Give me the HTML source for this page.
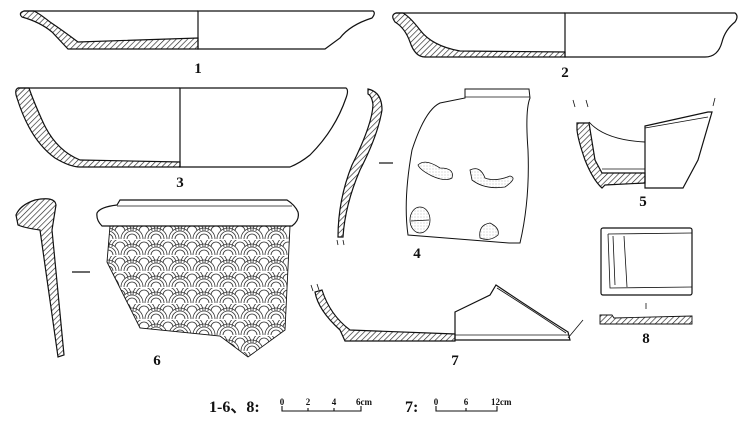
<!DOCTYPE html>
<html><head><meta charset="utf-8"><style>
html,body{margin:0;padding:0;background:#fff;}
svg{display:block;}
text{font-family:"Liberation Serif",serif;font-weight:bold;fill:#111;}
</style></head><body>
<svg width="750" height="426" viewBox="0 0 750 426" xmlns="http://www.w3.org/2000/svg">
<defs>
<pattern id="h" width="4" height="4" patternUnits="userSpaceOnUse" patternTransform="rotate(45)">
<line x1="0" y1="0" x2="0" y2="4" stroke="#222" stroke-width="1.3"/>
</pattern>
<pattern id="sc" width="24" height="16" patternUnits="userSpaceOnUse">
<g fill="none" stroke="#333" stroke-width="0.8">
<path d="M1 15 A11 11 0 0 1 23 15"/><path d="M4 15 A8 8 0 0 1 20 15"/><path d="M7 15 A5 5 0 0 1 17 15"/>
<path d="M-11 7 A11 11 0 0 1 11 7"/><path d="M-8 7 A8 8 0 0 1 8 7"/><path d="M-5 7 A5 5 0 0 1 5 7"/>
<path d="M13 7 A11 11 0 0 1 35 7"/><path d="M16 7 A8 8 0 0 1 32 7"/><path d="M19 7 A5 5 0 0 1 29 7"/>
</g>
</pattern>
<pattern id="dot" width="3" height="3" patternUnits="userSpaceOnUse"><circle cx="1" cy="1" r="0.4" fill="#666"/></pattern>
</defs>
<g fill="none" stroke="#111" stroke-width="1.2">
<!-- Fig 1 -->
<path d="M198 11 L373 11 Q376 13 372 18 Q350 25 340 38 L325 49 L198 49 Z" fill="#fff"/>
<path d="M24 11 Q18 13 22 17 Q40 22 52 32 L68 49 L198 49 L198 38 Q140 40 78 42 Q62 30 50 22 Q40 14 34 11 Z" fill="url(#h)"/>
<line x1="24" y1="11" x2="198" y2="11"/>
<!-- Fig 2 -->
<path d="M565 13 L735 13 Q739 16 735 22 Q725 30 722 42 Q718 57 705 57 L565 57 Z" fill="#fff"/>
<path d="M396 13 Q390 15 395 22 Q405 28 410 42 Q415 57 425 57 L565 57 L565 52 L460 51 Q432 46 420 30 Q410 17 403 13 Z" fill="url(#h)"/>
<line x1="396" y1="13" x2="565" y2="13"/>
<!-- Fig 3 -->
<path d="M180 88 L346 88 Q349 90 346 98 Q335 130 310 155 Q300 163 290 167 L180 167 Z" fill="#fff"/>
<path d="M18 88 Q14 90 17 98 Q30 140 55 158 Q70 167 80 167 L180 167 L180 162 L80 160 Q55 150 42 120 Q33 100 29 88 Z" fill="url(#h)"/>
<line x1="18" y1="88" x2="180" y2="88"/>
<!-- Fig 4 profile -->
<path d="M368 89 Q382 92 382 110 Q378 135 360 170 Q345 205 343 237 L338 237 Q338 200 352 165 Q372 125 373 105 Q372 96 368 94 Z" fill="url(#h)"/>
<line x1="379" y1="163" x2="393" y2="163"/>
<line x1="337" y1="240" x2="338" y2="245" stroke-width="0.8"/><line x1="343" y1="240" x2="344" y2="245" stroke-width="0.8"/>
<!-- Fig 4 sherd -->
<path d="M465 89 L529 89 L530 98 Q525 110 528 150 Q530 200 520 243 L509 243 L408 235 Q403 200 412 150 Q425 110 440 103 Q455 100 465 98 Z" fill="#fff" stroke-width="1"/>
<line x1="465" y1="97" x2="530" y2="97" stroke-width="0.8"/>
<path d="M418 165 Q425 158 440 168 Q455 168 452 178 Q445 182 432 176 Q420 170 418 165 Z" fill="url(#dot)" stroke-width="0.8"/>
<path d="M470 170 Q480 165 485 178 Q495 182 510 176 Q518 178 505 187 Q485 190 472 180 Z" fill="url(#dot)" stroke-width="0.8"/>
<ellipse cx="420" cy="220" rx="10" ry="13" fill="url(#dot)" stroke-width="0.8"/>
<line x1="411" y1="221" x2="429" y2="220" stroke-width="0.8"/>
<path d="M480 238 Q478 225 490 223 Q500 228 498 235 Q490 242 480 238 Z" fill="url(#dot)" stroke-width="0.8"/>
<!-- Fig 5 -->
<path d="M645 126 L708 112 L712 112 L698 160 L683 188 L645 188 Z" fill="#fff"/>
<line x1="645" y1="128" x2="708" y2="117" stroke-width="0.8"/>
<path d="M589 122 Q605 140 645 142" stroke-width="0.9"/>
<path d="M577 123 L589 123 L595 160 L602 173 L645 173 L645 183 L605 185 L602 188 Q593 180 585 160 Q578 140 577 130 Z" fill="url(#h)"/>
<line x1="602" y1="169" x2="645" y2="169" stroke-width="0.8"/>
<line x1="573" y1="100" x2="575" y2="107" stroke-width="0.8"/><line x1="586" y1="100" x2="588" y2="107" stroke-width="0.8"/><line x1="715" y1="98" x2="713" y2="106" stroke-width="0.8"/>
<!-- Fig 6 -->
<path d="M16 215 Q20 205 35 200 Q55 196 56 205 L52 230 L64 355 L58 357 L40 230 Q25 228 18 225 Z" fill="url(#h)"/>
<line x1="72" y1="272" x2="90" y2="272"/>
<path d="M110 226 L290 226 L285 330 L248 357 L220 336 L140 328 L107 262 Z" fill="url(#sc)" stroke-width="0.9"/>
<path d="M120 200 L287 200 Q295 205 298 212 Q300 220 292 226 L102 226 Q96 220 97 213 Q100 207 117 205 Z" fill="#fff"/>
<line x1="117" y1="206" x2="292" y2="206" stroke-width="0.8"/>
<!-- Fig 7 -->
<path d="M455 312 L490 295 L496 285 Q530 308 568 332 L570 340 L455 340 Z" fill="#fff"/>
<path d="M497 288 Q535 312 566 333" stroke-width="0.8"/>
<line x1="455" y1="335" x2="568" y2="335" stroke-width="0.8"/>
<line x1="568" y1="338" x2="583" y2="320" stroke-width="0.8"/>
<path d="M315 292 Q318 310 340 330 L345 341 L455 341 L455 334 L350 330 Q330 315 322 290 Z" fill="url(#h)"/>
<line x1="311" y1="285" x2="313" y2="291" stroke-width="0.8"/><line x1="317" y1="284" x2="319" y2="290" stroke-width="0.8"/>
<!-- Fig 8 -->
<rect x="601" y="228" width="91" height="67" rx="2" fill="#fff"/>
<path d="M608 234 L692 233 M608 234 L610 288 L692 287 M613 236 L615 285 M624 236 L627 287" stroke-width="0.8"/>
<line x1="646" y1="303" x2="646" y2="309" stroke-width="0.8"/>
<path d="M600 315 L612 315 L614 318 L692 316 L692 324 L600 324 Z" fill="url(#h)" stroke-width="0.9"/>
<!-- scale bars -->
<path d="M282 406 L282 411 L361 411 L361 406 M308 408 L308 411 M334 408 L334 411" stroke-width="1.1"/>
<path d="M436 406 L436 411 L497 411 L497 406 M466 408 L466 411" stroke-width="1.1"/>
</g>
<text x="198" y="73" font-size="15" text-anchor="middle">1</text>
<text x="565" y="77" font-size="15" text-anchor="middle">2</text>
<text x="180" y="187" font-size="15" text-anchor="middle">3</text>
<text x="417" y="258" font-size="15" text-anchor="middle">4</text>
<text x="643" y="206" font-size="15" text-anchor="middle">5</text>
<text x="157" y="365" font-size="15" text-anchor="middle">6</text>
<text x="455" y="365" font-size="15" text-anchor="middle">7</text>
<text x="646" y="343" font-size="15" text-anchor="middle">8</text>
<text x="209" y="412" font-size="16" font-family="Liberation Serif, Noto Serif CJK SC, serif">1-6、8:</text>
<text x="282" y="405" font-size="9" text-anchor="middle">0</text>
<text x="308" y="405" font-size="9" text-anchor="middle">2</text>
<text x="334" y="405" font-size="9" text-anchor="middle">4</text>
<text x="356" y="405" font-size="9">6cm</text>
<text x="405" y="412" font-size="16">7:</text>
<text x="436" y="405" font-size="9" text-anchor="middle">0</text>
<text x="466" y="405" font-size="9" text-anchor="middle">6</text>
<text x="491" y="405" font-size="9">12cm</text>
</svg>
</body></html>
